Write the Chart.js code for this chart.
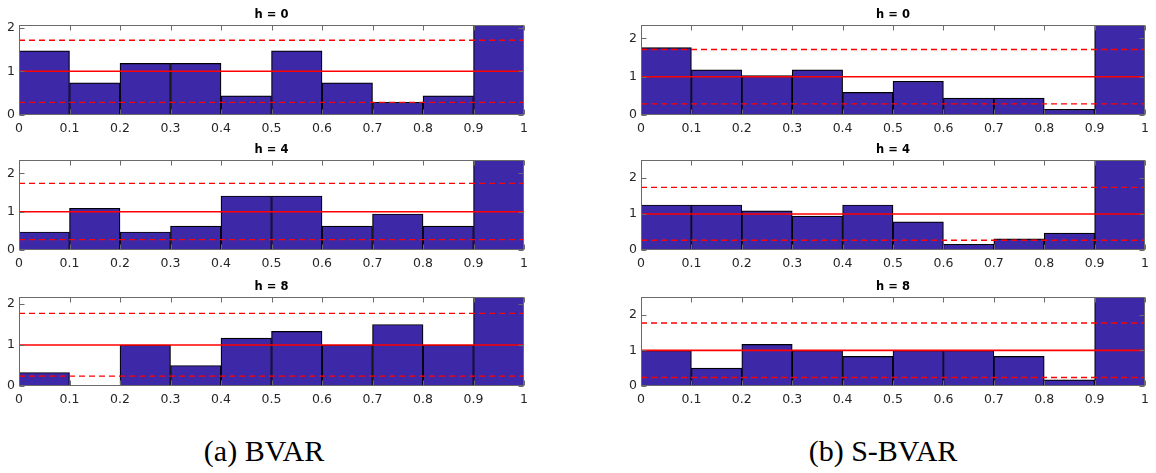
<!DOCTYPE html>
<html>
<head>
<meta charset="utf-8">
<script src="https://cdn.jsdelivr.net/npm/chart.js@4.4.1/dist/chart.umd.min.js"></script>
<style>
  html, body { margin: 0; padding: 0; background: #fff; }
  body { width: 1156px; height: 473px; position: relative; overflow: hidden; }
  .panel { position: absolute; }
  .caption { position: absolute; font-family: "Liberation Serif", "DejaVu Serif", serif; font-size: 30px; color: #000; white-space: nowrap; transform: translateX(-50%); line-height: 34px; }
</style>
</head>
<body>
<script>
// ---------------- data ----------------
const binCenters = [0.05, 0.15, 0.25, 0.35, 0.45, 0.55, 0.65, 0.75, 0.85, 0.95];
const xTicks = [0, 0.1, 0.2, 0.3, 0.4, 0.5, 0.6, 0.7, 0.8, 0.9, 1];
const xTickLabels = ['0', '0.1', '0.2', '0.3', '0.4', '0.5', '0.6', '0.7', '0.8', '0.9', '1'];
const yTicks = [0, 1, 2];
const yTickLabels = ['0', '1', '2'];
const horizonTitles = ['h = 0', 'h = 4', 'h = 8'];
const captions = ['(a) BVAR', '(b) S-BVAR'];
const uniformLevel = 1;
const upperBand = [1.71, 1.74, 1.77];
const lowerBand = [0.29, 0.27, 0.24];

const bvarH0 = [1.47, 0.735, 1.18, 1.18, 0.44, 1.47, 0.735, 0.29, 0.44, 2.06];
const bvarH4 = [0.47, 1.09, 0.47, 0.625, 1.41, 1.41, 0.625, 0.94, 0.625, 2.35];
const bvarH8 = [0.33, 0, 1.0, 0.5, 1.17, 1.33, 1.0, 1.5, 1.0, 2.17];
const sbvarH0 = [1.76, 1.18, 1.03, 1.18, 0.59, 0.88, 0.44, 0.44, 0.15, 2.35];
const sbvarH4 = [1.25, 1.25, 1.09, 0.94, 1.25, 0.78, 0.16, 0.31, 0.47, 2.5];
const sbvarH8 = [1.0, 0.5, 1.17, 1.0, 0.83, 1.0, 1.0, 0.83, 0.17, 2.5];

const columns = [[bvarH0, bvarH4, bvarH8], [sbvarH0, sbvarH4, sbvarH8]];

// ---------------- layout ----------------
const colBox = [{ l: 19, r: 528 }, { l: 641, r: 1149 }];
const rowBox = [{ t: 25, b: 115 }, { t: 160, b: 250 }, { t: 297, b: 386 }];
const Y_AXIS_W = 19, X_AXIS_H = 24, TOP_PAD = 25, RIGHT_PAD = 6;
const captionX = [264, 883];
const captionTop = 434;

const BAR_COLOR = 'rgb(61,41,168)';
const FONT = '"DejaVu Sans", "Liberation Sans", Arial, sans-serif';

const axesPlugin = {
  id: 'axesPlugin',
  afterDatasetsDraw(chart, args, opts) {
    const { ctx, chartArea: a, scales } = chart;
    const x = scales.x, y = scales.y;
    ctx.save();
    ctx.strokeStyle = '#6a6a6a';
    ctx.lineWidth = 1;
    const L = Math.round(a.left) + 0.5, R = Math.round(a.right) - 0.5;
    const T = Math.round(a.top) + 0.5, B = Math.round(a.bottom) - 0.5;
    ctx.strokeRect(L, T, R - L, B - T);
    ctx.beginPath();
    xTicks.forEach(v => {
      const px = Math.round(x.getPixelForValue(v)) + 0.5;
      ctx.moveTo(px, B); ctx.lineTo(px, B - 5);
      ctx.moveTo(px, T); ctx.lineTo(px, T + 5);
    });
    yTicks.forEach(v => {
      if (v > y.max) return;
      const py = Math.round(y.getPixelForValue(v)) + 0.5;
      ctx.moveTo(L, py); ctx.lineTo(L + 5, py);
      ctx.moveTo(R, py); ctx.lineTo(R - 5, py);
    });
    ctx.stroke();
    ctx.fillStyle = '#000';
    ctx.font = 'bold 11.5px ' + FONT;
    ctx.textAlign = 'center';
    ctx.textBaseline = 'alphabetic';
    ctx.fillText(opts.title, (a.left + a.right) / 2, a.top - 7);
    ctx.restore();
  }
};

function makePanel(ci, ri) {
  const values = columns[ci][ri];
  const cb = colBox[ci], rb = rowBox[ri];
  const w = (cb.r - cb.l) + Y_AXIS_W + RIGHT_PAD;
  const h = (rb.b - rb.t) + TOP_PAD + X_AXIS_H;
  const div = document.createElement('div');
  div.className = 'panel';
  div.style.left = (cb.l - Y_AXIS_W) + 'px';
  div.style.top = (rb.t - TOP_PAD) + 'px';
  div.style.width = w + 'px';
  div.style.height = h + 'px';
  const canvas = document.createElement('canvas');
  canvas.width = w; canvas.height = h;
  canvas.style.width = w + 'px'; canvas.style.height = h + 'px';
  div.appendChild(canvas);
  document.body.appendChild(div);

  const barData = binCenters.map((c, i) => ({ x: c, y: values[i] }));
  const hline = v => [{ x: xTicks[0], y: v }, { x: xTicks[xTicks.length - 1], y: v }];

  new Chart(canvas, {
    data: {
      datasets: [
        { type: 'bar', data: barData, backgroundColor: BAR_COLOR, borderColor: '#000', borderWidth: 1.2,
          borderSkipped: false, barPercentage: 1, categoryPercentage: 1, order: 2 },
        { type: 'line', data: hline(uniformLevel), borderColor: '#ff0000', borderWidth: 1.6, pointRadius: 0, order: 1 },
        { type: 'line', data: hline(upperBand[ri]), borderColor: '#ff0000', borderWidth: 1.4, borderDash: [6, 4], pointRadius: 0, order: 1 },
        { type: 'line', data: hline(lowerBand[ri]), borderColor: '#ff0000', borderWidth: 1.4, borderDash: [6, 4], pointRadius: 0, order: 1 }
      ]
    },
    options: {
      responsive: false,
      animation: false,
      devicePixelRatio: 1,
      layout: { padding: { top: TOP_PAD, right: RIGHT_PAD, left: 0, bottom: 0 } },
      plugins: { legend: { display: false }, tooltip: { enabled: false }, axesPlugin: { title: horizonTitles[ri] } },
      scales: {
        x: {
          type: 'linear', min: 0, max: 1, offset: false,
          grid: { display: false, drawTicks: false }, border: { display: false },
          afterBuildTicks: s => { s.ticks = xTicks.map(v => ({ value: v })); },
          afterFit: s => { s.height = X_AXIS_H; },
          ticks: { autoSkip: false, maxRotation: 0, padding: 6, color: '#262626',
                   font: { family: FONT, size: 12.5 },
                   callback: (v, i) => xTickLabels[i] }
        },
        y: {
          type: 'linear', min: 0, max: Math.max(...values),
          grid: { display: false, drawTicks: false }, border: { display: false },
          afterBuildTicks: s => { s.ticks = yTicks.map(v => ({ value: v })); },
          afterFit: s => { s.width = Y_AXIS_W; },
          ticks: { padding: 4, color: '#262626', font: { family: FONT, size: 12.5 },
                   callback: (v, i) => yTickLabels[i] }
        }
      }
    },
    plugins: [axesPlugin]
  });
}

for (let ci = 0; ci < 2; ci++) {
  for (let ri = 0; ri < 3; ri++) makePanel(ci, ri);
  const cap = document.createElement('div');
  cap.className = 'caption';
  cap.style.left = captionX[ci] + 'px';
  cap.style.top = captionTop + 'px';
  cap.textContent = captions[ci];
  document.body.appendChild(cap);
}
</script>
</body>
</html>
